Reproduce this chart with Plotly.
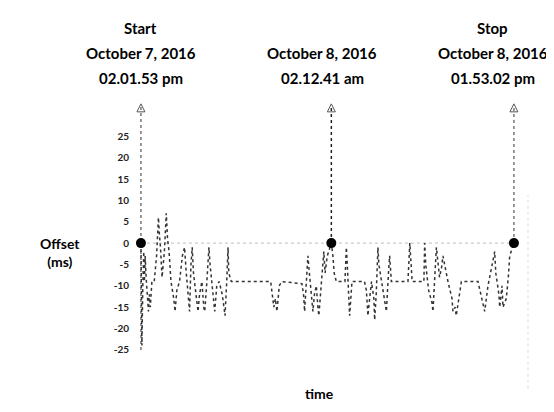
import plotly.graph_objects as go

# ---- data (hours since start, offset in ms) ----
hours = [0.00, 0.06, 0.12, 0.18, 0.22, 0.27, 0.33, 0.42, 0.48, 0.53, 0.60, 0.70, 0.85,
         1.00, 1.12, 1.18, 1.25, 1.35, 1.50, 1.62, 1.70, 1.80, 1.92, 2.10, 2.18, 2.30,
         2.47, 2.65, 2.79, 2.90, 3.05, 3.11, 3.20, 3.28, 3.36, 3.48, 3.58, 3.65, 3.75,
         3.90, 4.02, 4.08, 4.20, 4.35, 4.42, 4.55, 4.65, 4.72, 4.85, 5.00, 5.20, 5.32,
         5.38, 5.50, 5.57, 5.62, 5.78, 8.30, 8.42, 8.50, 8.60, 8.70, 8.85, 9.00, 10.30,
         10.40, 10.47, 10.58, 10.68, 10.75, 10.90, 11.00, 11.10, 11.22, 11.32, 11.38,
         11.55, 11.70, 11.78, 11.92, 12.18, 12.28, 12.36, 12.50, 13.05, 13.14, 13.20,
         13.30, 13.35, 13.50, 14.30, 14.42, 14.52, 14.60, 14.75, 14.90, 14.95, 15.05,
         15.16, 15.22, 15.38, 15.62, 15.70, 15.85, 15.91, 16.02, 17.08, 17.20, 17.35,
         18.10, 18.15, 18.22, 18.40, 18.62, 18.68, 18.90, 19.10, 19.22, 19.32, 19.64,
         19.90, 19.96, 20.10, 20.17, 20.50, 21.56, 21.90, 21.99, 22.20, 22.63, 22.70,
         22.90, 22.95, 23.10, 23.16, 23.37, 23.50, 23.59, 23.86]
offset = [0, -24, -10, -2, -9, -3, -8, -13, -16, -12, -15, -9, -9,
          -3, 6, 2, -1, -8, -2, 7, 1, -2, -9, -13, -16, -11,
          -9, -3, -1, -7, -13, -16, -5, -1, -7, -11, -15, -16, -12,
          -9, -15, -16, -10, -1, -5, -10, -14, -16, -10, -9, -12, -15,
          -17, -8, -1, -7, -9, -9, -12, -15, -13, -16, -10, -9, -9.5,
          -12, -16, -10, -3, -6, -12, -16, -12, -10, -15, -17,
          -9, -2, -7, -3, 0, -3, -7, -9, -9, -1, -5,
          -12, -17, -9, -9, -11, -17, -14, -9, -13, -18, -12,
          -1, -5, -9, -14, -16, -6, -3, -9, -9, 0, -9,
          -9, 0, -5, -11, -14, -16, -1, -8, -6, -3, -9,
          -13, -16, -15, -17, -9, -9, -14, -16, -10, -2, -7,
          -12, -15, -10, -15, -13, -8, -3, 0]

event_hours = [0.0, 12.18, 23.86]
event_label_lines = [["Start", "October 7, 2016", "02.01.53 pm"],
                     ["", "October 8, 2016", "02.12.41 am"],
                     ["Stop", "October 8, 2016", "01.53.02 pm"]]
y_ticks = [25, 20, 15, 10, 5, 0, -5, -10, -15, -20, -25]
y_tick_text = ["25", "20", "15", "10", "5", "0", "-5", "-10", "-15", "-20", "-25"]

FONT = "Lato"
PLOT_TOP, PLOT_H = 95, 255


def paper_y(px):
    return (PLOT_TOP + PLOT_H - px) / PLOT_H


fig = go.Figure()

# zero reference line
fig.add_trace(go.Scatter(x=[event_hours[0], event_hours[-1]], y=[0, 0], mode="lines",
                         line=dict(color="#bdbdbd", width=1, dash="dot"),
                         hoverinfo="skip", showlegend=False))

# event vertical dotted arrows
arrow_bottoms = [-25, 0, 0]
arrow_colors = ["#777", "#222", "#777"]
for h, b, c in zip(event_hours, arrow_bottoms, arrow_colors):
    fig.add_trace(go.Scatter(x=[h, h], y=[b, 32], mode="lines",
                             line=dict(color=c, width=1.5, dash="dot"),
                             hoverinfo="skip", showlegend=False))
fig.add_trace(go.Scatter(x=event_hours, y=[32.6] * 3, mode="markers",
                         marker=dict(symbol="arrow-up-open", size=8, color="#555",
                                     line=dict(width=1, color="#555")),
                         hoverinfo="skip", showlegend=False))

# offset series
fig.add_trace(go.Scatter(x=hours, y=offset, mode="lines",
                         line=dict(color="#333", width=1.5, dash="dot"),
                         showlegend=False))

# event points
fig.add_trace(go.Scatter(x=event_hours, y=[0, 0, 0], mode="markers",
                         marker=dict(color="black", size=10),
                         showlegend=False))

# faint line at far right
fig.add_shape(type="line", xref="x", yref="paper", x0=24.76, x1=24.76, y0=-0.12, y1=0.64,
              line=dict(color="#dddddd", width=1, dash="dot"))

# top labels (one annotation per line)
label_centers = [0.0, 11.6, 22.5]
line_px = [20, 45, 70]
for cx, lines in zip(label_centers, event_label_lines):
    for txt, py in zip(lines, line_px):
        if not txt:
            continue
        fig.add_annotation(x=cx, xref="x", y=paper_y(py), yref="paper",
                           text="<b>" + txt + "</b>", showarrow=False,
                           yanchor="middle", xanchor="center",
                           font=dict(family=FONT, size=15, color="black"))

fig.add_annotation(x=-0.17, xref="paper", y=-2.2, yref="y", text="<b>Offset</b><br><b>(ms)</b>",
                   showarrow=False, xanchor="center", yanchor="middle",
                   font=dict(family=FONT, size=14, color="black"))
fig.add_annotation(x=11.4, xref="x", y=paper_y(385), yref="paper", text="<b>time</b>",
                   showarrow=False, xanchor="center", yanchor="middle",
                   font=dict(family=FONT, size=14, color="black"))

fig.update_layout(
    width=554, height=412,
    margin=dict(l=122, r=19, t=PLOT_TOP, b=412 - PLOT_TOP - PLOT_H),
    paper_bgcolor="white", plot_bgcolor="white",
    xaxis=dict(range=[-0.7, 25.72], showgrid=False, zeroline=False, showline=False,
               showticklabels=False, ticks=""),
    yaxis=dict(range=[-26.9, 32.8], showgrid=False, zeroline=False, showline=False,
               tickvals=y_ticks, ticktext=y_tick_text, ticks="",
               tickfont=dict(family=FONT, size=10, color="#222", weight="bold")),
)

fig.write_html("out.html")
